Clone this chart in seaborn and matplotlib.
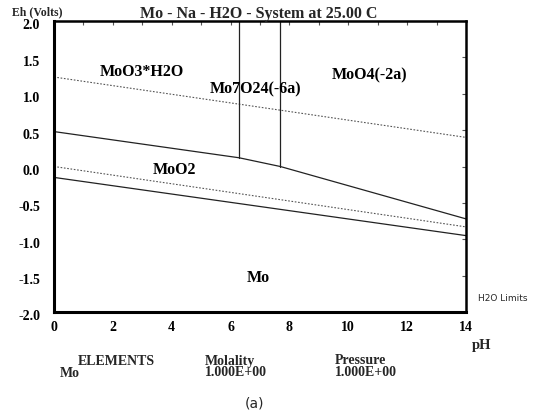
import matplotlib
matplotlib.use("Agg")
import matplotlib.pyplot as plt
import matplotlib.transforms as mtransforms
import seaborn as sns
import numpy as np

sns.set_theme(style="white")
plt.rcParams['font.family'] = ['Liberation Serif', 'DejaVu Serif']

# Water stability limits
h2o_ph = [0, 14]
o2_limit_eh = [1.23, 0.40]
h2_limit_eh = [0.0, -0.83]

# Solid boundaries
upper_ph = [0, 6.29, 7.69, 14]
upper_eh = [0.48, 0.12, 0.0, -0.72]
mo_ph = [0, 14]
mo_eh = [-0.15, -0.95]
vert1_ph = [6.29, 6.29]
vert1_eh = [2.0, 0.12]
vert2_ph = [7.69, 7.69]
vert2_eh = [2.0, 0.0]

# Field labels
field_names = ["MoO3*H2O", "Mo7O24(-6a)", "MoO4(-2a)", "MoO2", "Mo"]
field_ph = [2.99, 6.86, 10.72, 4.11, 6.93]
field_eh = [1.31, 1.08, 1.26, -0.03, -1.52]

x_ticks = [0, 2, 4, 6, 8, 10, 12, 14]
y_ticks = [2.0, 1.5, 1.0, 0.5, 0.0, -0.5, -1.0, -1.5, -2.0]

fig = plt.figure(figsize=(5.37, 4.14), dpi=100)
ax = fig.add_axes([54 / 537, 1 - 313 / 414, 412 / 537, 291 / 414])

for xs, ys in [(h2o_ph, o2_limit_eh), (h2o_ph, h2_limit_eh)]:
    sns.lineplot(x=xs, y=ys, ax=ax, color="#555555", lw=0.8, linestyle=(0, (1.5, 1.5)))
for xs, ys in [(upper_ph, upper_eh), (mo_ph, mo_eh), (vert1_ph, vert1_eh), (vert2_ph, vert2_eh)]:
    sns.lineplot(x=xs, y=ys, ax=ax, color="#222222", lw=0.9, sort=False, estimator=None)

for name, px, py in zip(field_names, field_ph, field_eh):
    ax.text(px, py, name, ha="center", va="center", fontsize=11.5, fontweight="bold",
            color="black")

ax.set_xlim(0, 14)
ax.set_ylim(-2.0, 2.0)
ax.set_xticks(x_ticks)
ax.set_xticks(np.arange(1, 14, 2), minor=True)
ax.set_xticklabels([str(t) for t in x_ticks], fontweight="bold", fontsize=10)
ax.set_yticks(y_ticks)
ax.set_yticklabels([f"{t:.1f}" for t in y_ticks], fontweight="bold", fontsize=10)
ax.set_xlabel("")
ax.set_ylabel("")
ax.tick_params(axis="both", which="both", direction="in", length=3, width=0.8,
               color="#555555", labelcolor="black", top=True, right=True)
ax.tick_params(axis="y", pad=10)
ax.tick_params(axis="x", pad=6)
shift = mtransforms.ScaledTranslation(0, -2.5 / 100, fig.dpi_scale_trans)
for lab in ax.get_yticklabels():
    lab.set_transform(lab.get_transform() + shift)
for s in ax.spines.values():
    s.set_color("black")
    s.set_linewidth(1.8)
ax.spines["left"].set_linewidth(2.2)
ax.spines["bottom"].set_linewidth(2.2)

fig.text(12 / 537, 1 - 12.5 / 414, "Eh (Volts)", fontsize=8.5, fontweight="bold", va="center")
fig.text(259 / 537, 1 - 13.5 / 414, "Mo - Na - H2O - System at 25.00 C", fontsize=11.5,
         fontweight="bold", ha="center", va="center")
fig.text(478 / 537, 1 - 298.5 / 414, "H2O Limits", fontsize=6.5, va="center",
         family=["DejaVu Sans"])
fig.text(472 / 537, 1 - 345 / 414, "pH", fontsize=10.5, fontweight="bold", va="center")
fig.text(78 / 537, 1 - 362 / 414, "ELEMENTS", fontsize=10, fontweight="bold", va="center")
fig.text(60 / 537, 1 - 373.5 / 414, "Mo", fontsize=10, fontweight="bold", va="center")
fig.text(205 / 537, 1 - 361.5 / 414, "Molality", fontsize=10, fontweight="bold", va="center")
fig.text(205 / 537, 1 - 373 / 414, "1.000E+00", fontsize=10, fontweight="bold", va="center")
fig.text(335 / 537, 1 - 361 / 414, "Pressure", fontsize=10, fontweight="bold", va="center")
fig.text(335 / 537, 1 - 372.5 / 414, "1.000E+00", fontsize=10, fontweight="bold", va="center")
fig.text(255 / 537, 1 - 404 / 414, "(a)", fontsize=10, ha="center", va="center",
         family=["DejaVu Sans"])

fig.savefig("out.png", dpi=100)
